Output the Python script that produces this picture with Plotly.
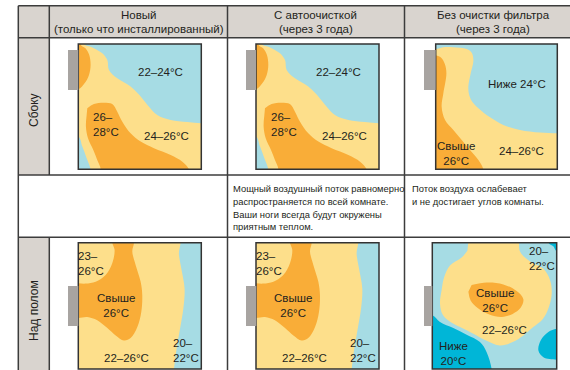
import plotly.graph_objects as go

W, H = 570, 370
FONT = "Liberation Sans, Arial, sans-serif"

PALETTE = {
    "Blue": "#a6dce4",
    "Yellow": "#fddf8b",
    "Orange": "#f9ad38",
    "Cyan": "#00b6d7",
    "Unit": "#a8a4a1",
    "Header": "#d9d4cf",
    "Line": "#3c3c3c",
    "Text": "#231f20",
}

# Column / row headings
HEADERS = [
    ("Новый", "(только что инсталлированный)"),
    ("С автоочисткой", "(через 3 года)"),
    ("Без очистки фильтра", "(через 3 года)"),
]
ROW_LABELS = ["Сбоку", "Над полом"]
NOTE_AUTO = [
    "Мощный воздушный поток равномерно",
    "распространяется по всей комнате.",
    "Ваши ноги всегда будут окружены",
    "приятным теплом.",
]
NOTE_DIRTY = [
    "Поток воздуха ослабевает",
    "и не достигает углов комнаты.",
]

# Temperature zones, room coords: u = from left wall, v = from ceiling (0..1)
SIDE_CLEAN_BLUE_TOP = [(0.046, -0.1), (0.046, 0.0), (0.114, 0.027), (0.195, 0.074), (0.236, 0.128),
                       (0.249, 0.207), (0.317, 0.274), (0.425, 0.340), (0.520, 0.434), (0.575, 0.500),
                       (0.642, 0.566), (0.751, 0.606), (0.886, 0.622), (1.0, 0.633), (1.1, 0.633),
                       (1.1, -0.1)]
SIDE_CLEAN_BLUE_CORNER = [(-0.1, 0.739), (0.0, 0.739), (0.033, 0.819), (0.068, 0.912), (0.100, 1.0),
                          (0.10, 1.1), (-0.1, 1.1)]
SIDE_CLEAN_ORANGE_TOP = [(0.019, -0.1), (0.019, 0.005), (0.060, 0.035), (0.089, 0.088), (0.100, 0.168),
                         (0.087, 0.247), (0.051, 0.314), (0.0, 0.362), (-0.1, 0.362), (-0.1, -0.1)]
SIDE_CLEAN_ORANGE_MAIN = [(0.073, 0.513), (0.127, 0.479), (0.209, 0.468), (0.276, 0.479), (0.317, 0.540),
                          (0.358, 0.620), (0.425, 0.713), (0.507, 0.779), (0.615, 0.832), (0.751, 0.886),
                          (0.846, 0.939), (0.900, 1.0), (0.92, 1.1), (0.17, 1.1), (0.182, 1.0),
                          (0.154, 0.926), (0.122, 0.846), (0.079, 0.753), (0.062, 0.660), (0.068, 0.566)]
SIDE_CLEAN_LABELS = [("22–24°C", 0.67, 0.226), ("26–<br>28°C", 0.228, 0.646), ("24–26°C", 0.72, 0.734)]

SIDE_DIRTY_BLUE = [(-0.1, -0.1), (-0.1, 0.04), (0.0, 0.04), (0.06, 0.025), (0.145, 0.025), (0.255, 0.04),
                   (0.296, 0.07), (0.310, 0.13), (0.288, 0.234), (0.268, 0.354), (0.288, 0.441), (0.351, 0.513),
                   (0.447, 0.585), (0.556, 0.646), (0.693, 0.686), (0.858, 0.707), (1.0, 0.713),
                   (1.1, 0.713), (1.1, -0.1)]
SIDE_DIRTY_ORANGE = [(-0.1, 0.09), (0.0, 0.09), (0.045, 0.11), (0.075, 0.16), (0.088, 0.234),
                     (0.063, 0.394), (0.049, 0.500), (0.077, 0.606), (0.145, 0.686), (0.214, 0.766),
                     (0.282, 0.846), (0.351, 0.926), (0.392, 1.0), (0.40, 1.1), (-0.1, 1.1)]
SIDE_DIRTY_LABELS = [("Ниже 24°C", 0.666, 0.322), ("Свыше<br>26°C", 0.164, 0.872), ("24–26°C", 0.707, 0.854)]

FLOOR_CLEAN_ORANGE = [(-0.1, -0.1), (0.45, -0.1), (0.453, 0.0), (0.439, 0.069), (0.466, 0.176),
                      (0.507, 0.309), (0.520, 0.415), (0.512, 0.548), (0.480, 0.668), (0.425, 0.755),
                      (0.371, 0.774), (0.304, 0.734), (0.236, 0.676), (0.154, 0.614), (0.073, 0.588),
                      (0.0, 0.596), (-0.1, 0.596)]
FLOOR_CLEAN_YELLOW = [(-0.1, -0.1), (0.276, -0.1), (0.276, 0.0), (0.295, 0.056), (0.276, 0.162),
                      (0.222, 0.255), (0.141, 0.309), (0.060, 0.324), (0.0, 0.322), (-0.1, 0.322)]
FLOOR_CLEAN_BLUE = [(0.832, -0.1), (0.832, 0.0), (0.818, 0.082), (0.837, 0.202), (0.864, 0.362),
                    (0.854, 0.521), (0.827, 0.681), (0.799, 0.840), (0.778, 1.0), (0.77, 1.1),
                    (1.1, 1.1), (1.1, -0.1)]
FLOOR_CLEAN_LABELS = [("23–<br>26°C", 0.106, 0.162), ("Свыше<br>26°C", 0.304, 0.495),
                      ("22–26°C", 0.393, 0.915), ("20–<br>22°C", 0.873, 0.854)]

FLOOR_DIRTY_CYAN_LEFT = [(-0.1, 0.574), (0.0, 0.574), (0.062, 0.628), (0.169, 0.676), (0.276, 0.729),
                         (0.383, 0.787), (0.437, 0.867), (0.477, 1.0), (0.48, 1.1), (-0.1, 1.1)]
FLOOR_DIRTY_CYAN_RIGHT = [(1.1, 0.681), (1.0, 0.681), (0.933, 0.707), (0.871, 0.774), (0.853, 0.854),
                          (0.893, 0.907), (1.0, 0.926), (1.1, 0.926)]
FLOOR_DIRTY_CYAN_TOP = [(0.933, -0.1), (0.933, 0.0), (0.973, 0.029), (1.0, 0.069), (1.1, 0.069), (1.1, -0.1)]
FLOOR_DIRTY_YELLOW = [(0.30, -0.1), (0.68, -0.1), (0.705, 0.069), (0.786, 0.149), (0.893, 0.207),
                      (0.946, 0.295), (0.960, 0.402), (0.933, 0.521), (0.887, 0.606), (0.812, 0.668),
                      (0.732, 0.734), (0.646, 0.787), (0.544, 0.814), (0.437, 0.777), (0.330, 0.721),
                      (0.223, 0.668), (0.137, 0.622), (0.083, 0.569), (0.062, 0.481), (0.075, 0.375),
                      (0.094, 0.277), (0.142, 0.181), (0.236, 0.117), (0.282, 0.064)]
FLOOR_DIRTY_ORANGE = [(0.316, 0.335), (0.437, 0.316), (0.571, 0.330), (0.678, 0.383), (0.732, 0.447),
                      (0.710, 0.516), (0.646, 0.564), (0.558, 0.588), (0.458, 0.569), (0.370, 0.521),
                      (0.308, 0.457), (0.290, 0.388)]
FLOOR_DIRTY_LABELS = [("Свыше<br>26°C", 0.504, 0.455), ("22–26°C", 0.584, 0.694),
                      ("20–<br>22°C", 0.879, 0.122), ("Ниже<br>20°C", 0.169, 0.880)]

side_clean = dict(bg="Yellow", zones=[("Blue", SIDE_CLEAN_BLUE_TOP), ("Blue", SIDE_CLEAN_BLUE_CORNER),
                                      ("Orange", SIDE_CLEAN_ORANGE_TOP), ("Orange", SIDE_CLEAN_ORANGE_MAIN)],
                  labels=SIDE_CLEAN_LABELS)
side_dirty = dict(bg="Yellow", zones=[("Blue", SIDE_DIRTY_BLUE), ("Orange", SIDE_DIRTY_ORANGE)],
                  labels=SIDE_DIRTY_LABELS)
floor_clean = dict(bg="Yellow", zones=[("Orange", FLOOR_CLEAN_ORANGE), ("Yellow", FLOOR_CLEAN_YELLOW),
                                       ("Blue", FLOOR_CLEAN_BLUE)],
                   labels=FLOOR_CLEAN_LABELS)
floor_dirty = dict(bg="Blue", zones=[("Cyan", FLOOR_DIRTY_CYAN_LEFT), ("Cyan", FLOOR_DIRTY_CYAN_RIGHT),
                                     ("Cyan", FLOOR_DIRTY_CYAN_TOP), ("Yellow", FLOOR_DIRTY_YELLOW),
                                     ("Orange", FLOOR_DIRTY_ORANGE)],
                   labels=FLOOR_DIRTY_LABELS)

# pixel boxes (x0, y0, x1, y1) of the room squares and the wall units
PANELS = [
    (side_clean, (78.3, 44, 201.3, 169.3), (68, 50, 78.3, 90)),
    (side_clean, (256, 44, 379, 169.3), (246, 50, 256, 90)),
    (side_dirty, (435.7, 44, 557.3, 169.3), (424, 50, 435.7, 90)),
    (floor_clean, (78.3, 242.7, 201.3, 369), (68, 286, 78.3, 326)),
    (floor_clean, (256, 242.7, 379, 369), (246, 286, 256.3, 326)),
    (floor_dirty, (432.3, 242.7, 556.7, 369), (424, 286, 432.3, 326)),
]


def px(x):
    return x / W


def py(y):
    return 1 - y / H


fig = go.Figure()
shapes = []
annotations = []

# table backgrounds
shapes.append(dict(type="rect", xref="paper", yref="paper", x0=px(18.3), x1=px(575), y0=py(5.7), y1=py(37.7),
                   fillcolor=PALETTE["Header"], line_width=0, layer="below"))
for y0, y1 in [(37.7, 175), (237.3, 375)]:
    shapes.append(dict(type="rect", xref="paper", yref="paper", x0=px(18.3), x1=px(49.3), y0=py(y0), y1=py(y1),
                       fillcolor=PALETTE["Header"], line_width=0, layer="below"))

# table grid
grid = [
    (18.3, 5.7, 575, 5.7), (18.3, 37.7, 575, 37.7), (18.3, 175, 575, 175), (18.3, 237.3, 575, 237.3),
    (18.3, 5.7, 18.3, 375), (49.3, 5.7, 49.3, 175), (49.3, 237.3, 49.3, 375),
    (227.5, 5.7, 227.5, 375), (404.5, 5.7, 404.5, 375),
]
for x0, y0, x1, y1 in grid:
    shapes.append(dict(type="line", xref="paper", yref="paper", x0=px(x0), x1=px(x1), y0=py(y0), y1=py(y1),
                       line=dict(color=PALETTE["Line"], width=1.5)))

# headings
for (t1, t2), cx in zip(HEADERS, [139, 316, 493]):
    for t, y in [(t1, 15), (t2, 29)]:
        annotations.append(dict(text=t, xref="paper", yref="paper", x=px(cx), y=py(y), showarrow=False,
                                xanchor="center", yanchor="middle", font=dict(size=11.5, color=PALETTE["Text"])))
for t, y in zip(ROW_LABELS, [110, 311]):
    annotations.append(dict(text=t, xref="paper", yref="paper", x=px(34), y=py(y), showarrow=False,
                            textangle=-90, xanchor="center", yanchor="middle",
                            font=dict(size=12, color=PALETTE["Text"])))
for lines, x0 in [(NOTE_AUTO, 231), (NOTE_DIRTY, 410)]:
    for i, t in enumerate(lines):
        annotations.append(dict(text=t, xref="paper", yref="paper", x=px(x0), y=py(188 + 13 * i), showarrow=False,
                                xanchor="left", yanchor="middle", font=dict(size=9.4, color=PALETTE["Text"])))

# room panels
for k, (panel, box, unit) in enumerate(PANELS, start=1):
    sfx = "" if k == 1 else str(k)
    xa, ya = f"x{sfx}", f"y{sfx}"
    x0, y0, x1, y1 = box
    fig.layout[f"xaxis{sfx}"] = dict(domain=[px(x0), px(x1)], range=[0, 1], visible=False, fixedrange=True, anchor=ya)
    fig.layout[f"yaxis{sfx}"] = dict(domain=[py(y1), py(y0)], range=[1, 0], visible=False, fixedrange=True, anchor=xa)

    fig.add_trace(go.Scatter(x=[-0.2, 1.2, 1.2, -0.2], y=[-0.2, -0.2, 1.2, 1.2], fill="toself", mode="lines",
                             line=dict(width=0), fillcolor=PALETTE[panel["bg"]], hoverinfo="skip",
                             xaxis=xa, yaxis=ya, showlegend=False))
    for color, poly in panel["zones"]:
        fig.add_trace(go.Scatter(x=[p[0] for p in poly], y=[p[1] for p in poly], fill="toself", mode="lines",
                                 line=dict(width=0, shape="spline", smoothing=1.0),
                                 fillcolor=PALETTE[color], hoverinfo="skip",
                                 xaxis=xa, yaxis=ya, showlegend=False))
    for text, u, v in panel["labels"]:
        annotations.append(dict(text=text, xref=xa, yref=ya, x=u, y=v, showarrow=False,
                                align="left" if "–<br>" in text else "center",
                                font=dict(size=11.5, color=PALETTE["Text"])))
    shapes.append(dict(type="rect", xref=f"{xa} domain", yref=f"{ya} domain", x0=0, x1=1, y0=0, y1=1,
                       line=dict(color="#333333", width=1.5), layer="above"))
    ux0, uy0, ux1, uy1 = unit
    shapes.append(dict(type="rect", xref="paper", yref="paper", x0=px(ux0), x1=px(ux1), y0=py(uy1), y1=py(uy0),
                       fillcolor=PALETTE["Unit"], line_width=0))

fig.update_layout(
    width=W, height=H,
    margin=dict(l=0, r=0, t=0, b=0),
    paper_bgcolor="white", plot_bgcolor="white",
    font=dict(family=FONT, color=PALETTE["Text"]),
    shapes=shapes, annotations=annotations,
    showlegend=False,
)

fig.write_html("out.html", config={"displayModeBar": False},
               post_script="document.body.style.margin = '0px';")
